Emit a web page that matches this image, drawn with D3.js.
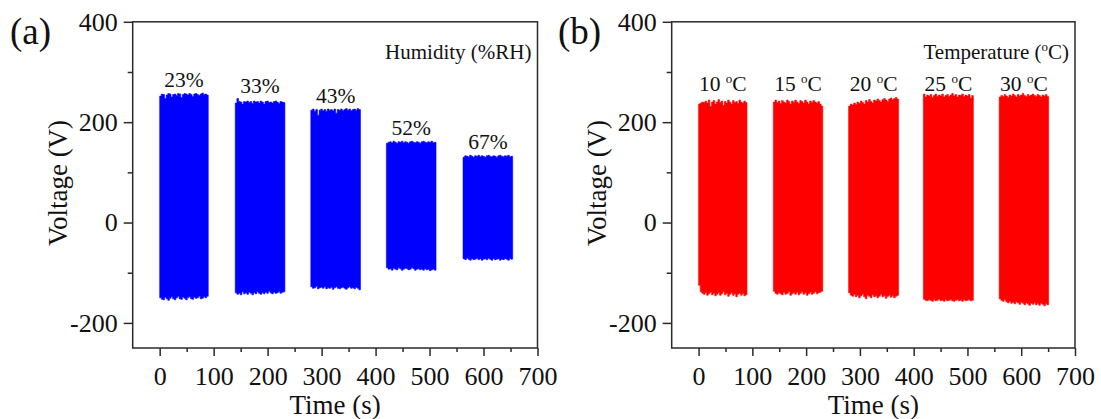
<!DOCTYPE html>
<html>
<head>
<meta charset="utf-8">
<script src="https://cdn.jsdelivr.net/npm/d3@7"></script>
<style>
  html, body { margin: 0; padding: 0; background: #fff; }
  svg { display: block; }
  text { font-family: "Liberation Serif", "Times New Roman", serif; fill: #111; }
</style>
</head>
<body>
<svg id="chart" width="1101" height="419"></svg>
<script>
// ---------------- DATA ----------------
const timeTicks = [0, 100, 200, 300, 400, 500, 600, 700];
const timeMinorTicks = [50, 150, 250, 350, 450, 550, 650];
const voltTicks = [-200, 0, 200, 400];
const voltMinorTicks = [-100, 100, 300];

// Panel (a): humidity
const humidityLabels = ["23%", "33%", "43%", "52%", "67%"];
const humSegStart = [0, 140, 280, 420, 562];
const humSegEnd = [90, 232, 372, 512, 654];
const humTop = [
  [252,256,255,247,254,257,256,250,255,256,253,257,256,249,255,257,256,254,257,255,251,256,257,255,253,256,258,255,256,254],
  [238,247,241,240,236,241,240,242,239,241,237,242,240,241,238,242,240,236,241,242,239,240,238,241,242,240,237,241,240,239],
  [224,226,222,225,214,224,226,223,225,222,226,224,225,223,226,218,225,224,226,223,225,227,224,226,223,225,226,224,227,225],
  [158,160,161,159,162,160,158,161,160,162,159,161,160,158,161,162,160,159,161,160,158,161,162,160,159,161,160,162,159,160],
  [130,133,132,131,134,132,130,133,132,134,131,133,132,130,133,134,132,131,133,132,130,133,134,132,131,133,132,134,131,132]
];
const humBottom = [
  [-150,-153,-154,-149,-152,-155,-151,-148,-152,-154,-150,-147,-152,-153,-149,-151,-154,-150,-148,-152,-153,-149,-151,-150,-147,-152,-151,-148,-150,-147],
  [-140,-143,-141,-144,-138,-142,-140,-143,-139,-141,-144,-140,-142,-138,-141,-143,-140,-142,-139,-141,-137,-140,-142,-139,-141,-140,-138,-141,-139,-138],
  [-128,-131,-130,-127,-132,-130,-129,-131,-128,-132,-130,-131,-129,-133,-130,-128,-131,-132,-130,-129,-131,-133,-130,-128,-131,-130,-132,-129,-131,-134],
  [-90,-93,-92,-95,-91,-93,-94,-90,-92,-95,-93,-91,-92,-94,-93,-90,-92,-95,-93,-92,-94,-93,-95,-92,-94,-93,-96,-94,-93,-95],
  [-72,-74,-71,-73,-75,-72,-74,-73,-71,-74,-72,-75,-73,-72,-74,-71,-73,-75,-72,-74,-73,-72,-75,-73,-74,-72,-73,-75,-72,-73]
];

// Panel (b): temperature
const tempLabels = ["10", "15", "20", "25", "30"];
const tempSegStart = [0, 139, 279, 418, 559];
const tempSegEnd = [90, 231, 372, 511, 651];
const tempTop = [
  [236,238,240,239,242,238,244,231,240,243,236,240,245,239,242,233,241,238,244,240,236,243,239,241,237,244,240,238,242,239],
  [240,244,239,242,237,243,240,238,244,241,236,242,239,244,240,237,243,241,238,244,240,236,242,239,243,240,238,241,236,232],
  [232,236,234,238,235,240,237,242,239,236,243,240,245,241,238,244,242,246,243,240,245,247,244,241,246,248,245,247,249,246],
  [256,250,254,252,255,249,253,256,251,254,252,256,250,253,255,251,254,257,252,255,250,254,253,256,251,254,252,255,248,253],
  [250,253,251,255,252,249,254,252,256,253,250,255,252,254,257,253,251,255,252,254,256,253,251,255,253,250,254,252,255,251]
];
const tempBottom = [
  [-125,-138,-141,-143,-140,-145,-142,-139,-144,-141,-146,-143,-140,-145,-142,-138,-144,-141,-147,-143,-140,-145,-142,-148,-143,-141,-145,-142,-146,-144],
  [-137,-141,-143,-140,-142,-144,-139,-143,-141,-138,-145,-142,-140,-143,-139,-144,-141,-138,-143,-140,-145,-142,-139,-143,-141,-138,-142,-140,-139,-137],
  [-140,-145,-147,-143,-148,-145,-150,-146,-143,-148,-152,-145,-147,-150,-144,-148,-146,-150,-147,-143,-148,-146,-151,-147,-145,-149,-146,-150,-147,-145],
  [-153,-155,-156,-154,-155,-157,-154,-156,-155,-153,-156,-155,-157,-154,-156,-155,-154,-156,-157,-155,-154,-156,-155,-157,-154,-156,-155,-154,-156,-155],
  [-152,-155,-157,-154,-158,-160,-157,-161,-159,-162,-158,-160,-163,-159,-161,-164,-160,-162,-165,-161,-163,-160,-164,-162,-165,-161,-163,-166,-162,-164]
];

// ---------------- DRAW ----------------
const svg = d3.select("#chart");
svg.append("rect").attr("width", 1101).attr("height", 419).attr("fill", "#fff");

const yTop = 21.8, yBot = 348;
const axisColor = "#2a2a2a";
const plainFormat = d => String(d);   // hyphen-minus like the original

function drawPanel(cfg) {
  const x = d3.scaleLinear().domain([-50, 700]).range([cfg.left, cfg.right]);
  const y = d3.scaleLinear().domain([-250, 400]).range([yBot, yTop]);
  const g = svg.append("g");

  // signal blocks
  const area = d3.area()
    .x(d => x(d.t))
    .y0(d => y(d.lo))
    .y1(d => y(d.hi))
    .curve(d3.curveStepAfter);
  cfg.starts.forEach((s, i) => {
    const e = cfg.ends[i];
    const top = cfg.top[i], bot = cfg.bottom[i];
    const n = top.length;
    const pts = top.map((v, k) => ({ t: s + (e - s) * k / n, hi: v, lo: bot[k] }));
    pts.push({ t: e, hi: top[n - 1], lo: bot[n - 1] });
    g.append("path").datum(pts).attr("d", area).attr("fill", cfg.color)
      .attr("stroke", cfg.color).attr("stroke-width", 0.6);
  });

  // frame
  g.append("rect")
    .attr("x", cfg.left).attr("y", yTop)
    .attr("width", cfg.right - cfg.left).attr("height", yBot - yTop)
    .attr("fill", "none").attr("stroke", axisColor).attr("stroke-width", 1.5);

  // x axis
  const xAx = g.append("g").attr("transform", `translate(0,${yBot})`)
    .call(d3.axisBottom(x).tickValues(timeTicks).tickSize(8).tickPadding(11).tickFormat(plainFormat));
  const xMin = g.append("g").attr("transform", `translate(0,${yBot})`)
    .call(d3.axisBottom(x).tickValues(timeMinorTicks).tickSize(4).tickFormat(""));
  // y axis
  const yAx = g.append("g").attr("transform", `translate(${cfg.left},0)`)
    .call(d3.axisLeft(y).tickValues(voltTicks).tickSize(9).tickPadding(6).tickFormat(plainFormat));
  const yMin = g.append("g").attr("transform", `translate(${cfg.left},0)`)
    .call(d3.axisLeft(y).tickValues(voltMinorTicks).tickSize(5).tickFormat(""));
  [xAx, xMin, yAx, yMin].forEach(a => {
    a.select(".domain").remove();
    a.selectAll("line").attr("stroke", axisColor).attr("stroke-width", 1.5);
    a.selectAll("text").attr("font-size", 26).attr("fill", "#111")
      .style("font-family", '"Liberation Serif", serif');
  });

  // axis titles
  g.append("text").attr("x", (cfg.left + cfg.right) / 2).attr("y", 414)
    .attr("text-anchor", "middle").attr("font-size", 27).text("Time (s)");
  g.append("text").attr("transform", `translate(${cfg.left - 66},183) rotate(-90)`)
    .attr("text-anchor", "middle").attr("font-size", 27).text("Voltage (V)");

  // panel letter
  g.append("text").attr("x", cfg.letterX).attr("y", 44).attr("font-size", 37).text(cfg.letter);

  // segment labels
  cfg.starts.forEach((s, i) => {
    const cx = x((s + cfg.ends[i]) / 2);
    const cy = cfg.labelY != null ? y(cfg.labelY) : y(d3.max(cfg.top[i])) - 6;
    const t = g.append("text").attr("x", cx).attr("y", cy)
      .attr("text-anchor", "middle").attr("font-size", 21.5);
    if (cfg.degree) {
      t.append("tspan").text(cfg.labels[i] + " ");
      t.append("tspan").attr("font-size", 13).attr("dy", -8).text("o");
      t.append("tspan").attr("dy", 8).text("C");
    } else {
      t.text(cfg.labels[i]);
    }
  });

  // legend title
  const lt = g.append("text").attr("x", cfg.right - 6).attr("y", 59)
    .attr("text-anchor", "end").attr("font-size", 21);
  if (cfg.degree) {
    lt.append("tspan").text("Temperature (");
    lt.append("tspan").attr("font-size", 13).attr("dy", -8).text("o");
    lt.append("tspan").attr("dy", 8).text("C)");
  } else {
    lt.text("Humidity (%RH)");
  }
}

drawPanel({
  left: 132.7, right: 537.5, color: "#0000ff",
  starts: humSegStart, ends: humSegEnd, top: humTop, bottom: humBottom,
  labels: humidityLabels, degree: false, labelY: null,
  letter: "(a)", letterX: 10
});
drawPanel({
  left: 671.7, right: 1075, color: "#ff0000",
  starts: tempSegStart, ends: tempSegEnd, top: tempTop, bottom: tempBottom,
  labels: tempLabels, degree: true, labelY: 262,
  letter: "(b)", letterX: 558
});
</script>
</body>
</html>
